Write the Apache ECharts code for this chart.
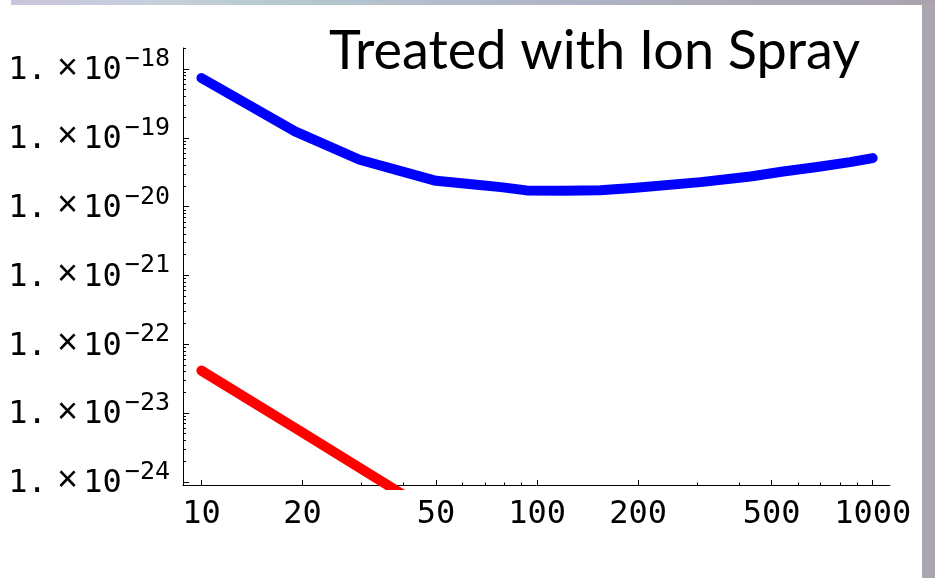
<!DOCTYPE html>
<html>
<head>
<meta charset="utf-8">
<script src="https://cdn.jsdelivr.net/npm/echarts@6/dist/echarts.min.js"></script>
<style>
  html, body { margin: 0; padding: 0; background: #fff; }
  #chart { width: 935px; height: 578px; }
</style>
</head>
<body>
<div id="chart"></div>
<script>
// values (x, y) on log-log scales
const blueData = [
  [10, 7.4e-19], [19, 1.24e-19], [29.6, 4.8e-20], [40, 3.2e-20], [50, 2.37e-20],
  [65, 2.09e-20], [78, 1.92e-20], [93, 1.72e-20], [120, 1.7e-20], [154, 1.73e-20],
  [193, 1.86e-20], [307, 2.27e-20], [432, 2.74e-20], [541, 3.24e-20],
  [683, 3.76e-20], [856, 4.43e-20], [1000, 5.07e-20]
]
const redData = [[10, 4.13e-23], [20, 5.2e-24], [40, 6.45e-25]]

const xMajor = [10, 20, 50, 100, 200, 500, 1000]
const xMinor = [30, 40, 60, 70, 80, 90, 300, 400, 600, 700, 800, 900]
const yMajor = [1e-24, 1e-23, 1e-22, 1e-21, 1e-20, 1e-19, 1e-18]
const yMinorMult = [2, 3, 4, 5, 6, 7, 8, 9]

const xMin = 8.814, xMax = 1126
const yMin = 8.985e-25, yMax = 2.02e-18

const yMinor = []
yMajor.forEach(d => yMinorMult.forEach(m => {
  const v = d * m
  if (v < yMax) yMinor.push(v)
}))

const chart = echarts.init(document.getElementById('chart'))

const monoFont = '"DejaVu Sans Mono", "Liberation Mono", monospace'

const option = {
  animation: false,
  backgroundColor: '#fff',
  title: {
    text: 'Treated with Ion Spray',
    left: 329,
    top: 25,
    padding: 0,
    textStyle: { fontFamily: 'Lato', fontSize: 54, fontWeight: 'normal', color: '#000' }
  },
  graphic: [
    { type: 'rect', shape: { x: 922, y: 0, width: 13, height: 578 }, style: { fill: '#aba5ae' }, silent: true },
    {
      type: 'rect', shape: { x: 11, y: 0, width: 924, height: 5 }, silent: true,
      style: {
        fill: new echarts.graphic.LinearGradient(0, 0, 1, 0, [
          { offset: 0, color: '#c9c4dc' },
          { offset: 0.15, color: '#c7d0dc' },
          { offset: 0.3, color: '#b5c8d0' },
          { offset: 0.6, color: '#b0b4c4' },
          { offset: 1, color: '#aaa3ae' }
        ])
      }
    }
  ],
  grid: { left: 183, right: 45, top: 48, bottom: 93, containLabel: false },
  xAxis: [
    {
      type: 'log', min: xMin, max: xMax, position: 'bottom',
      axisLine: { lineStyle: { color: '#000', width: 1 } },
      axisTick: { inside: true, length: 5, lineStyle: { color: '#000' }, customValues: xMajor },
      axisLabel: {
        customValues: xMajor, margin: 14, color: '#000', lineHeight: 32,
        fontFamily: monoFont, fontSize: 32, formatter: v => String(Math.round(v))
      },
      splitLine: { show: false }
    },
    {
      type: 'log', min: xMin, max: xMax, position: 'bottom',
      axisLine: { show: false },
      axisTick: { inside: true, length: 2.5, lineStyle: { color: '#000' }, customValues: xMinor },
      axisLabel: { show: false },
      splitLine: { show: false }
    }
  ],
  yAxis: [
    {
      type: 'log', min: yMin, max: yMax, position: 'left',
      axisLine: { show: true, lineStyle: { color: '#000', width: 1 } },
      axisTick: { show: true, inside: true, length: 6, lineStyle: { color: '#000' }, customValues: yMajor },
      axisLabel: {
        customValues: yMajor, margin: 13, color: '#000', padding: [4, 0, 0, 0],
        formatter: v => '{m|1.}{x|×}{m|10}{s|−' + (-Math.round(Math.log10(v))) + '}',
        rich: {
          m: { fontFamily: monoFont, fontSize: 32, lineHeight: 32, verticalAlign: 'bottom', color: '#000' },
          x: { fontFamily: '"Liberation Mono", monospace', fontSize: 36, lineHeight: 32, padding: [0, 5, 0, 10], verticalAlign: 'bottom', color: '#000' },
          s: { fontFamily: monoFont, fontSize: 25, lineHeight: 24, padding: [0, 0, 15, 3], verticalAlign: 'bottom', color: '#000' }
        }
      },
      splitLine: { show: false }
    },
    {
      type: 'log', min: yMin, max: yMax, position: 'left',
      axisLine: { show: false },
      axisTick: { show: true, inside: true, length: 3, lineStyle: { color: '#000' }, customValues: yMinor },
      axisLabel: { show: false },
      splitLine: { show: false }
    }
  ],
  series: [
    {
      type: 'line', data: blueData, xAxisIndex: 0, yAxisIndex: 0,
      showSymbol: false, clip: true,
      lineStyle: { color: '#0000ff', width: 10, cap: 'round', join: 'round' }
    },
    {
      type: 'line', data: redData, xAxisIndex: 0, yAxisIndex: 0,
      showSymbol: false, clip: true,
      lineStyle: { color: '#ff0000', width: 10, cap: 'round', join: 'round' }
    }
  ]
}

chart.setOption(option)
</script>
</body>
</html>
